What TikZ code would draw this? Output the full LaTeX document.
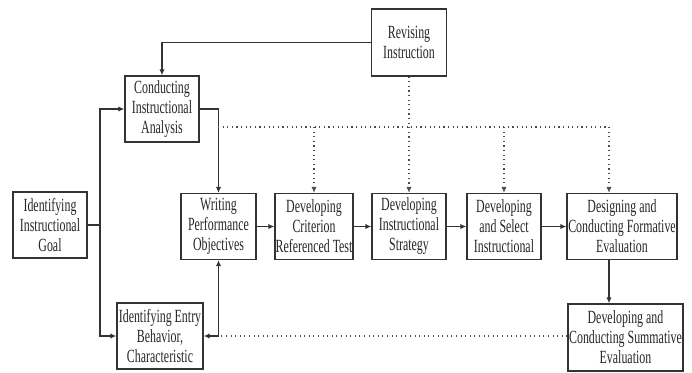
\documentclass[tikz,border=0pt]{standalone}
\usepackage{fontspec}
\setmainfont{Liberation Serif}[FakeStretch=0.64]
\usetikzlibrary{arrows.meta}
\tikzset{
  stepbox/.style={draw=black!80, line width=0.6pt, minimum height=33pt, inner sep=0pt,
    align=center, text=black!85, font=\fontsize{9.3}{10}\selectfont},
  link/.style={draw=black!80, line width=0.6pt},
  flow/.style={link, ->},
  review/.style={link, draw=black!70, dash pattern=on 0.55pt off 1.75pt},
  >={Latex[length=3pt,width=2.6pt]}
}
\begin{document}
\begin{tikzpicture}[x=0.5pt,y=0.5pt]
  \useasboundingbox (0,0) rectangle (692,372);
  % steps
  \node[stepbox,minimum width=37.5pt,minimum height=33.5pt] (revise) at (409,329.5) {Revising\\Instruction};
  \node[stepbox,minimum width=37pt] (analysis) at (162,263) {Conducting\\Instructional\\Analysis};
  \node[stepbox,minimum width=37pt] (goal) at (50,147) {Identifying\\Instructional\\Goal};
  \node[stepbox,minimum width=43pt] (entry) at (160,36) {Identifying Entry\\Behavior,\\Characteristic};
  \node[stepbox,minimum width=37.5pt] (objectives) at (218.5,145.5) {Writing\\Performance\\Objectives};
  \node[stepbox,minimum width=39pt] (test) at (314,145.5) {Developing\\Criterion\\Referenced Test};
  \node[stepbox,minimum width=37pt] (strategy) at (409,145.5) {Developing\\Instructional\\Strategy};
  \node[stepbox,minimum width=37pt] (media) at (504,145.5) {Developing\\and Select\\Instructional};
  \node[stepbox,minimum width=55pt] (formative) at (622,145.5) {Designing and\\Conducting Formative\\Evaluation};
  \node[stepbox,minimum width=57.5pt,minimum height=33.5pt] (summative) at (625.5,34.5) {Developing and\\Conducting Summative\\Evaluation};

  % main flow
  \coordinate (split) at (100,147);
  \draw[link] (goal.east) -- (split);
  \draw[flow] (split) |- (analysis.west);
  \draw[flow] (split) |- (entry.west);
  \draw[flow] (revise.west) -| (analysis.north);
  \draw[flow] (analysis.east) -| (objectives.north);
  \foreach \a/\b in {objectives/test,test/strategy,strategy/media,media/formative} {
      \draw[flow] (\a) -- (\b);
  };
  \draw[link,<->] (objectives.south) |- (entry.east);
  \draw[flow] ([xshift=-6.5pt]formative.south) -- ([xshift=-6.5pt]formative.south |- summative.north);

  % revision feedback
  \coordinate (corner) at (objectives.south |- entry.east);
  \draw[review] (corner -| summative.west) -- (corner);
  \coordinate (bus) at (218,245);
  \coordinate (fb) at ([xshift=-6.5pt]formative.north);
  \draw[review] (bus) -- (bus -| fb);
  \draw[review,->] (revise.south) -- (strategy.north);
  \foreach \n in {test,media} {
      \draw[review,->] (bus -| \n.north) -- (\n.north);
  };
  \draw[review,->] (bus -| fb) -- (fb);
\end{tikzpicture}
\end{document}
